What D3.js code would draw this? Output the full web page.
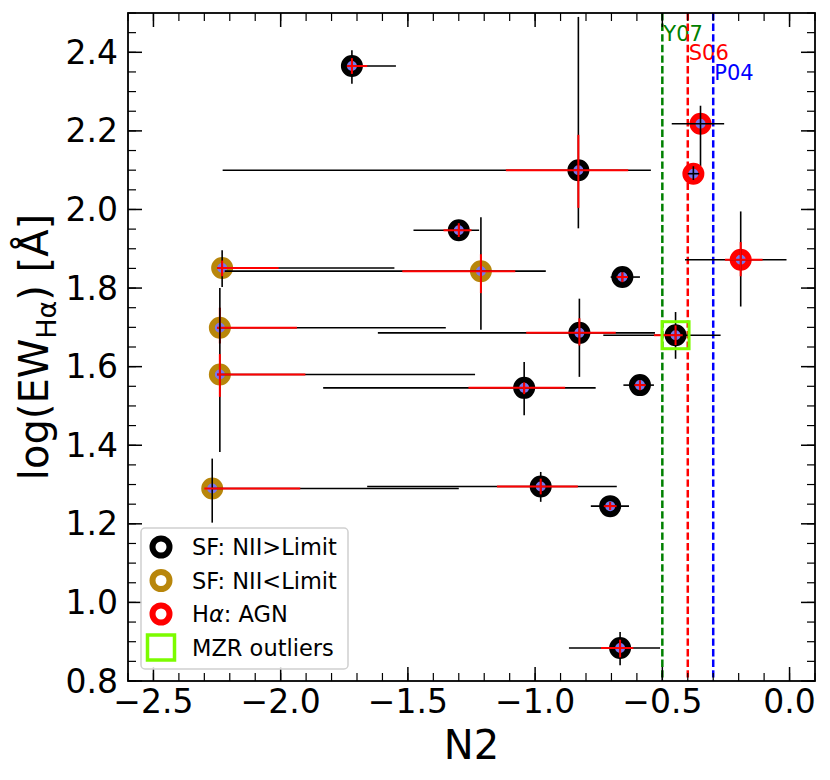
<!DOCTYPE html>
<html>
<head>
<meta charset="utf-8">
<script src="https://cdn.jsdelivr.net/npm/d3@7"></script>
<style>
  body { margin: 0; background: #fff; }
  svg text { font-family: "DejaVu Sans", sans-serif; }
</style>
</head>
<body>
<svg id="chart" width="830" height="780"></svg>
<script>
// ---------------- data ----------------
const n2    = [-1.72, -0.83, -0.35, -0.378, -1.30, -2.23, -1.213, -0.657, -2.239, -0.826, -0.448, -2.239, -1.043, -0.588, -2.269, -0.978, -0.705, -0.666, -0.192];
const logEW = [2.365, 2.100, 2.218, 2.091, 1.947, 1.851, 1.843, 1.828, 1.699, 1.686, 1.680, 1.580, 1.546, 1.553, 1.290, 1.295, 1.245, 0.884, 1.872];
// group: 0 = SF NII>Limit, 1 = SF NII<Limit, 2 = Hα AGN
const group = [0, 0, 2, 2, 0, 1, 1, 0, 1, 0, 0, 1, 0, 0, 1, 0, 0, 0, 2];
const outlier = [0,0,0,0,0,0,0,0,0,0,1,0,0,0,0,0,0,0,0];
// black (total) error bar endpoints
const bxLo = [-1.75, -2.228, -0.463, -0.40, -1.478, -2.25, -2.22, -0.703, -2.25, -1.618, -0.732, -2.25, -1.833, -0.653, -2.27, -1.66, -0.781, -0.867, -0.411];
const bxHi = [-1.547, -0.545, -0.257, -0.355, -1.22, -1.553, -0.958, -0.588, -1.351, -0.529, -0.271, -1.236, -0.762, -0.533, -1.30, -0.679, -0.631, -0.509, -0.012];
const byLo = [2.32, 1.952, 2.11, 2.075, 1.93, 1.803, 1.694, 1.81, 1.68, 1.574, 1.62, 1.383, 1.476, 1.54, 1.203, 1.256, 1.235, 0.840, 1.753];
const byHi = [2.405, 2.49, 2.264, 2.11, 1.965, 1.896, 1.98, 1.845, 1.72, 1.773, 1.739, 1.80, 1.612, 1.565, 1.366, 1.332, 1.255, 0.925, 1.995];
// red error bar endpoints (null = none)
const rxLo = [-1.74, -1.115, null, null, -1.36, -2.25, -1.522, -0.68, -2.25, -1.035, -0.533, -2.25, -1.262, -0.61, -2.30, -1.15, -0.73, -0.741, -0.254];
const rxHi = [-1.66, -0.634, null, null, -1.25, -2.008, -1.078, -0.635, -1.936, -0.683, -0.42, -1.903, -0.882, -0.565, -1.923, -0.832, -0.68, -0.614, -0.106];
const ryLo = [2.345, 2.004, null, null, 1.93, 1.83, 1.787, 1.815, 1.659, 1.654, 1.655, 1.523, 1.53, 1.54, null, 1.275, 1.235, 0.86, 1.83];
const ryHi = [2.385, 2.19, null, null, 1.965, 1.87, 1.886, 1.84, 1.75, 1.723, 1.705, 1.632, 1.56, 1.565, null, 1.315, 1.255, 0.905, 1.917];
// reference demarcation lines
const refNames = ["Y07", "S06", "P04"];
const refN2    = [-0.5, -0.4, -0.3];
const refLabelY = [2.43, 2.38, 2.33];
const refColors = ["#008000", "#ff0000", "#0000ff"];
// ticks
const xTicks = [-2.5, -2.0, -1.5, -1.0, -0.5, 0.0];
const yTicks = [0.8, 1.0, 1.2, 1.4, 1.6, 1.8, 2.0, 2.2, 2.4];
const legendLabels = ["SF: NII>Limit", "SF: NII<Limit", "Hα: AGN", "MZR outliers"];
const groupColors = ["#000000", "#b8860b", "#ff0000"];

// ---------------- layout ----------------
const svg = d3.select("#chart");
const L = 128, R = 815, T = 13, B = 681;
const x = d3.scaleLinear().domain([-2.6, 0.1]).range([L, R]);
const y = d3.scaleLinear().domain([0.8, 2.5]).range([B, T]);
const fillBlue = "#7878ee";

const plot = svg.append("g");

// reference dashed lines
refN2.forEach((v, i) => {
  plot.append("line")
    .attr("x1", x(v)).attr("x2", x(v)).attr("y1", T).attr("y2", B)
    .attr("stroke", refColors[i]).attr("stroke-width", 2.5)
    .attr("stroke-dasharray", "7.4,3.2");
  plot.append("text")
    .attr("x", x(v) + 1).attr("y", y(refLabelY[i]))
    .attr("fill", refColors[i]).attr("font-size", 21)
    .text(refNames[i]);
});

const idx = d3.range(n2.length);

// markers, black error bars, red error bars
idx.forEach(i => {
  const g = plot.append("g");
  g.append("circle")
    .attr("cx", x(n2[i])).attr("cy", y(logEW[i])).attr("r", 8)
    .attr("fill", fillBlue).attr("stroke", groupColors[group[i]]).attr("stroke-width", 6);
  g.append("line").attr("x1", x(bxLo[i])).attr("x2", x(bxHi[i]))
    .attr("y1", y(logEW[i])).attr("y2", y(logEW[i]))
    .attr("stroke", "#000").attr("stroke-width", 1.6);
  g.append("line").attr("x1", x(n2[i])).attr("x2", x(n2[i]))
    .attr("y1", y(byLo[i])).attr("y2", y(byHi[i]))
    .attr("stroke", "#000").attr("stroke-width", 1.6);
  if (rxLo[i] !== null) {
    g.append("line").attr("x1", x(rxLo[i])).attr("x2", x(rxHi[i]))
      .attr("y1", y(logEW[i])).attr("y2", y(logEW[i]))
      .attr("stroke", "#ff0000").attr("stroke-width", 2);
  }
  if (ryLo[i] !== null) {
    g.append("line").attr("x1", x(n2[i])).attr("x2", x(n2[i]))
      .attr("y1", y(ryLo[i])).attr("y2", y(ryHi[i]))
      .attr("stroke", "#ff0000").attr("stroke-width", 2);
  }
  if (outlier[i]) {
    g.append("rect")
      .attr("x", x(n2[i]) - 13.5).attr("y", y(logEW[i]) - 13.5)
      .attr("width", 27).attr("height", 27)
      .attr("fill", "none").attr("stroke", "#7cfc00").attr("stroke-width", 3);
  }
});

// ---------------- axes ----------------
const xMinor = d3.range(-2.6, 0.1001, 0.1).map(v => +v.toFixed(2));
const yMinor = d3.range(0.8, 2.5001, 0.05).map(v => +v.toFixed(3));
const ax = svg.append("g");
function tickLines(vals, len, w) {
  vals.forEach(v => {
    ax.append("line").attr("x1", x(v)).attr("x2", x(v)).attr("y1", B).attr("y2", B - len).attr("stroke", "#000").attr("stroke-width", w);
    ax.append("line").attr("x1", x(v)).attr("x2", x(v)).attr("y1", T).attr("y2", T + len).attr("stroke", "#000").attr("stroke-width", w);
  });
}
function yTickLines(vals, len, w) {
  vals.forEach(v => {
    ax.append("line").attr("y1", y(v)).attr("y2", y(v)).attr("x1", L).attr("x2", L + len).attr("stroke", "#000").attr("stroke-width", w);
    ax.append("line").attr("y1", y(v)).attr("y2", y(v)).attr("x1", R).attr("x2", R - len).attr("stroke", "#000").attr("stroke-width", w);
  });
}
tickLines(xMinor, 8, 1.2);
tickLines(xTicks, 14, 1.5);
yTickLines(yMinor, 8, 1.2);
yTickLines(yTicks, 14, 1.5);

ax.append("rect").attr("x", L).attr("y", T).attr("width", R - L).attr("height", B - T)
  .attr("fill", "none").attr("stroke", "#000").attr("stroke-width", 1.8);

const fmt = d3.format(".1f");
const minus = s => s.replace("-", "\u2212");
xTicks.forEach(v => {
  ax.append("text").attr("x", x(v)).attr("y", 713).attr("text-anchor", "middle")
    .attr("font-size", 33).text(minus(fmt(v)));
});
yTicks.forEach(v => {
  ax.append("text").attr("x", L - 10).attr("y", y(v)).attr("text-anchor", "end")
    .attr("dominant-baseline", "central").attr("font-size", 33).text(fmt(v));
});

svg.append("text").attr("x", (L + R) / 2).attr("y", 759).attr("text-anchor", "middle")
  .attr("font-size", 40).text("N2");

const yl = svg.append("text")
  .attr("transform", `translate(48,${(T + B) / 2}) rotate(-90)`)
  .attr("text-anchor", "middle").attr("font-size", 40);
yl.append("tspan").text("log(EW");
yl.append("tspan").attr("font-size", 27).attr("dy", 8).text("Hα");
yl.append("tspan").attr("dy", -8).text(") [Å]");

// ---------------- legend ----------------
const lg = svg.append("g");
lg.append("rect").attr("x", 141).attr("y", 528).attr("width", 207).attr("height", 141)
  .attr("rx", 4).attr("fill", "#fff").attr("fill-opacity", 0.85)
  .attr("stroke", "#d0d0d0").attr("stroke-width", 1.5);
const rowY = [547, 580.5, 614, 647.5];
legendLabels.forEach((lab, i) => {
  if (i < 3) {
    lg.append("circle").attr("cx", 161).attr("cy", rowY[i]).attr("r", 8.5)
      .attr("fill", "#fff").attr("stroke", groupColors[i]).attr("stroke-width", 6);
  } else {
    lg.append("rect").attr("x", 147.5).attr("y", rowY[i] - 12.5).attr("width", 27).attr("height", 25)
      .attr("fill", "none").attr("stroke", "#7cfc00").attr("stroke-width", 3.5);
  }
  const t = lg.append("text").attr("x", 192).attr("y", rowY[i]).attr("dominant-baseline", "central")
    .attr("font-size", 22.5);
  if (i === 2) {
    t.append("tspan").text("H");
    t.append("tspan").attr("font-style", "italic").text("α");
    t.append("tspan").text(": AGN");
  } else {
    t.text(lab);
  }
});
</script>
</body>
</html>
